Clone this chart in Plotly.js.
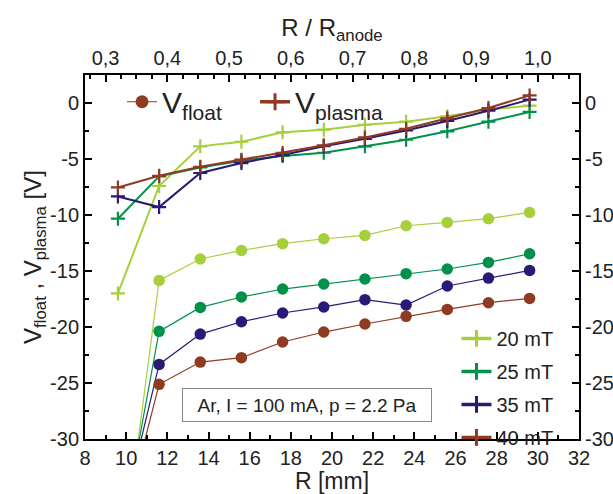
<!DOCTYPE html>
<html>
<head>
<meta charset="utf-8">
<script src="https://cdn.plot.ly/plotly-3.0.1.min.js"></script>
<style>html,body{margin:0;padding:0;background:#fff;}#chart{width:613px;height:494px;}</style>
</head>
<body>
<div id="chart"></div>
<script>
// Radial position R [mm]
const R = [9.6, 11.6, 13.6, 15.6, 17.6, 19.6, 21.6, 23.6, 25.6, 27.6, 29.6];
const R_ANODE = 30; // mm, top axis R / R_anode

// Plasma potential V_plasma [V]
const Vp20 = [-17.0, -7.41, -3.87, -3.46, -2.62, -2.38, -1.94, -1.67, -1.19, -0.60, -0.24];
const Vp25 = [-10.33, -6.55, -5.75, -5.15, -4.73, -4.44, -3.87, -3.28, -2.53, -1.67, -0.80];
const Vp35 = [-8.34, -9.29, -6.25, -5.36, -4.64, -3.86, -3.20, -2.45, -1.60, -0.69, 0.30];
const Vp40 = [-7.54, -6.50, -5.70, -5.06, -4.46, -3.78, -3.07, -2.30, -1.37, -0.45, 0.68];

// Floating potential V_float [V]
const Vf20 = [-43.9, -15.84, -13.93, -13.16, -12.56, -12.12, -11.82, -10.96, -10.66, -10.33, -9.77];
const Vf25 = [-40.4, -20.39, -18.25, -17.32, -16.61, -16.16, -15.71, -15.24, -14.82, -14.23, -13.46];
const Vf35 = [-38.7, -23.34, -20.63, -19.53, -18.75, -18.21, -17.56, -18.04, -16.34, -15.63, -14.95];
const Vf40 = [-39.5, -25.12, -23.13, -22.74, -21.34, -20.45, -19.73, -19.05, -18.43, -17.83, -17.45];

const fieldNames = ["20 mT", "25 mT", "35 mT", "40 mT"];
const colors = ["#a6cf3c", "#00924a", "#2a1a78", "#8e3b22"];

const xTickVals = [8, 10, 12, 14, 16, 18, 20, 22, 24, 26, 28, 30, 32];
const yTickVals = [0, -5, -10, -15, -20, -25, -30];
const yTickText = ["0", "-5", "-10", "-15", "-20", "-25", "-30"];
const topTickVals = [0.3, 0.4, 0.5, 0.6, 0.7, 0.8, 0.9, 1.0];
const topTickText = ["0,3", "0,4", "0,5", "0,6", "0,7", "0,8", "0,9", "1,0"];

const FONT = "Liberation Sans, Arial, sans-serif";
const plasma = [Vp20, Vp25, Vp35, Vp40];
const flt = [Vf20, Vf25, Vf35, Vf40];

const traces = [];
// float curves
flt.forEach((v, i) => traces.push({
  x: R, y: v, type: "scatter", mode: "lines+markers", showlegend: false,
  line: {color: colors[i], width: 1.2},
  marker: {symbol: "circle", size: 11.5, color: colors[i]}
}));
// plasma curves
plasma.forEach((v, i) => traces.push({
  x: R, y: v, type: "scatter", mode: "lines+markers", showlegend: false,
  line: {color: colors[i], width: 2},
  marker: {symbol: "cross-thin", size: 10, line: {width: 2.2, color: colors[i]}}
}));
// legend entries (field strength) - placed on the secondary axes so those get drawn
fieldNames.forEach((n, i) => traces.push({
  x: [null], y: [null], xaxis: "x2", yaxis: "y2", type: "scatter", mode: "lines+markers", name: n,
  legend: "legend2", legendgroup: "g" + i,
  line: {color: colors[i], width: 3.5},
  marker: {symbol: "cross-thin", size: 12, line: {width: 3, color: colors[i]}}
}));
// legend entries (quantity)
traces.push({
  x: [null], y: [null], xaxis: "x2", yaxis: "y2", type: "scatter", mode: "lines+markers", name: "V<sub>float</sub>", legend: "legend",
  line: {color: colors[3], width: 1.2}, marker: {symbol: "circle", size: 13, color: colors[3]}
});
traces.push({
  x: [null], y: [null], xaxis: "x2", yaxis: "y2", type: "scatter", mode: "lines+markers", name: "V<sub>plasma</sub>", legend: "legend",
  line: {color: colors[3], width: 3.5}, marker: {symbol: "cross-thin", size: 12, line: {width: 3, color: colors[3]}}
});

const axCommon = {
  showline: true, linecolor: "#000", linewidth: 2, mirror: false,
  ticks: "inside", ticklen: 7, tickwidth: 2, tickcolor: "#000",
  showgrid: false, zeroline: false,
  tickfont: {family: FONT, size: 20, color: "#222"}
};

const layout = {
  width: 613, height: 494,
  margin: {l: 85, r: 34, t: 75, b: 55},
  paper_bgcolor: "#fff", plot_bgcolor: "#fff",
  font: {family: FONT, color: "#222"},
  xaxis: Object.assign({}, axCommon, {
    range: [8, 32], tickvals: xTickVals,
    minor: {dtick: 1, tick0: 8, ticks: "inside", ticklen: 4, tickwidth: 2, tickcolor: "#000"},
    title: {text: "R [mm]", font: {family: FONT, size: 23, color: "#222"}, standoff: 5}
  }),
  xaxis2: Object.assign({}, axCommon, {
    overlaying: "x", side: "top", anchor: "y2",
    range: [8 / R_ANODE, 32 / R_ANODE], tickvals: topTickVals, ticktext: topTickText,
    minor: {dtick: 0.025, tick0: 0.3, ticks: "inside", ticklen: 4, tickwidth: 2, tickcolor: "#000"},
    title: {text: "R / R<sub>anode</sub>", font: {family: FONT, size: 24, color: "#222"}, standoff: 4}
  }),
  yaxis: Object.assign({}, axCommon, {
    range: [-30, 2.5], tickvals: yTickVals, ticktext: yTickText,
    minor: {dtick: 2.5, tick0: 0, ticks: "inside", ticklen: 4, tickwidth: 2, tickcolor: "#000"},
    title: {text: "V<sub>float</sub> , V<sub>plasma</sub> [V]", font: {family: FONT, size: 24, color: "#222"}, standoff: 0}
  }),
  yaxis2: Object.assign({}, axCommon, {
    overlaying: "y", side: "right", anchor: "x2",
    range: [-30, 2.5], tickvals: yTickVals, ticktext: yTickText,
    minor: {dtick: 2.5, tick0: 0, ticks: "inside", ticklen: 4, tickwidth: 2, tickcolor: "#000"}
  }),
  showlegend: true,
  legend: {
    orientation: "h", x: 0.075, y: 0.998, xanchor: "left", yanchor: "top",
    bgcolor: "rgba(0,0,0,0)", font: {family: FONT, size: 30, color: "#222"},
    entrywidth: 88, entrywidthmode: "pixels"
  },
  legend2: {
    orientation: "v", x: 0.752, y: 0.33, xanchor: "left", yanchor: "top",
    bgcolor: "rgba(0,0,0,0)", font: {family: FONT, size: 20, color: "#222"},
    traceorder: "grouped", tracegroupgap: 4
  },
  annotations: [{
    x: 18.8, y: -27.0, xref: "x", yref: "y", showarrow: false,
    text: "Ar, I = 100 mA, p = 2.2 Pa",
    font: {family: FONT, size: 19, color: "#222"},
    bordercolor: "#888", borderwidth: 1, borderpad: 4, width: 240, height: 24
  }]
};

Plotly.newPlot("chart", traces, layout, {displayModeBar: false, staticPlot: true});
</script>
</body>
</html>
